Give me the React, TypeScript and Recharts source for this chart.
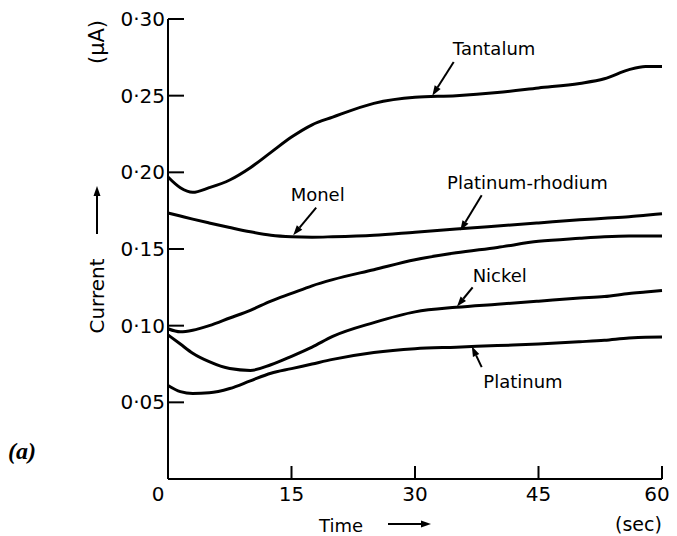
import React from 'react';
import {
  LineChart,
  Line,
  XAxis,
  YAxis,
  ReferenceLine,
  ReferenceDot,
} from 'recharts';

// sample times (sec)
const TIMES = [0, 1.5, 3, 5, 7.5, 10, 12.5, 15, 17.5, 20, 25, 30, 35, 40, 45, 50, 53, 56, 58, 60];

// current readings (µA) for each electrode metal
const TANTALUM = [0.197, 0.19, 0.187, 0.19, 0.195, 0.203, 0.213, 0.223, 0.231, 0.236, 0.245, 0.249, 0.25, 0.252, 0.255, 0.258, 0.261, 0.267, 0.269, 0.269];
const MONEL_PT_RH = [0.1735, 0.1715, 0.1695, 0.167, 0.164, 0.1612, 0.159, 0.158, 0.1577, 0.158, 0.159, 0.161, 0.163, 0.165, 0.167, 0.169, 0.17, 0.171, 0.172, 0.173];
const UNLABELLED = [0.098, 0.096, 0.097, 0.1, 0.105, 0.11, 0.116, 0.121, 0.126, 0.13, 0.1365, 0.143, 0.1475, 0.151, 0.155, 0.157, 0.158, 0.1585, 0.1585, 0.1585];
const NICKEL = [0.094, 0.088, 0.082, 0.0765, 0.072, 0.0708, 0.0745, 0.08, 0.086, 0.093, 0.102, 0.109, 0.112, 0.114, 0.116, 0.118, 0.119, 0.121, 0.122, 0.123];
const PLATINUM = [0.061, 0.057, 0.0558, 0.0562, 0.059, 0.064, 0.069, 0.072, 0.075, 0.078, 0.0825, 0.085, 0.086, 0.087, 0.088, 0.0895, 0.0905, 0.092, 0.0925, 0.0926];

const X_TICKS = [0, 15, 30, 45, 60];
const Y_TICKS = [0.05, 0.1, 0.15, 0.2, 0.25, 0.3];

// curve labels: text anchor point, arrow tail and arrow head (data units)
const LABELS = [
  { text: 'Tantalum', at: [34.6, 0.2766], tail: [34.7, 0.272], head: [32.1, 0.25] },
  { text: 'Platinum-rhodium', at: [33.9, 0.189], tail: [38.1, 0.185], head: [35.5, 0.162] },
  { text: 'Monel', at: [14.9, 0.181], tail: [18.0, 0.177], head: [15.2, 0.159] },
  { text: 'Nickel', at: [37.0, 0.1285], tail: [37.0, 0.125], head: [35.1, 0.1125] },
  { text: 'Platinum', at: [38.3, 0.0594], tail: [38.1, 0.073], head: [36.9, 0.0865] },
];

const FONT = '"DejaVu Sans", sans-serif';
const AXIS_STROKE = { stroke: '#000', strokeWidth: 2 };

const data = TIMES.map((t, i) => ({
  t,
  tantalum: TANTALUM[i],
  monel: MONEL_PT_RH[i],
  other: UNLABELLED[i],
  nickel: NICKEL[i],
  platinum: PLATINUM[i],
}));

// tick marks point into the plot (negative tickSize), labels sit outside
const YTick = (props: any) => {
  const { x, y, payload } = props;
  return (
    <text x={x} y={y} textAnchor="end" dominantBaseline="central" fontSize={20} fontFamily={FONT} fill="#000">
      {payload.value.toFixed(2).replace('.', '·')}
    </text>
  );
};

const XTick = (props: any) => {
  const { x, y, payload } = props;
  const v = payload.value;
  const dx = v === 0 ? -10 : v === 60 ? -5 : 0;
  return (
    <text x={x + dx} y={y} textAnchor="middle" dominantBaseline="central" fontSize={20} fontFamily={FONT} fill="#000">
      {v}
    </text>
  );
};

// straight pointer line with a filled head at the second point
const Pointer = (props: any) => {
  const { x1, y1, x2, y2 } = props;
  const dx = x2 - x1;
  const dy = y2 - y1;
  const len = Math.sqrt(dx * dx + dy * dy) || 1;
  const ux = dx / len;
  const uy = dy / len;
  const hl = 10;
  const hw = 3.5;
  const bx = x2 - ux * hl;
  const by = y2 - uy * hl;
  return (
    <g>
      <line x1={x1} y1={y1} x2={bx} y2={by} stroke="#000" strokeWidth={2} />
      <polygon
        points={`${x2},${y2} ${bx - uy * hw},${by + ux * hw} ${bx + uy * hw},${by - ux * hw}`}
        fill="#000"
      />
    </g>
  );
};

const series = ['tantalum', 'monel', 'other', 'nickel', 'platinum'];

export default function App() {
  return (
    <div style={{ position: 'absolute', left: 0, top: 0, width: 677, height: 536, background: '#fff' }}>
      <LineChart width={677} height={536} data={data} margin={{ top: 19, right: 15, bottom: 0, left: 0 }}>
        <XAxis
          dataKey="t"
          type="number"
          domain={[0, 60]}
          ticks={X_TICKS}
          height={57}
          tickSize={-13}
          tickMargin={28}
          tickLine={AXIS_STROKE}
          axisLine={AXIS_STROKE}
          tick={<XTick />}
          interval={0}
        />
        <YAxis
          type="number"
          domain={[0, 0.3]}
          ticks={Y_TICKS}
          width={168}
          tickSize={-16}
          tickMargin={19}
          tickLine={AXIS_STROKE}
          axisLine={AXIS_STROKE}
          tick={<YTick />}
          interval={0}
        />
        {series.map((key) => (
          <Line
            key={key}
            dataKey={key}
            type="monotone"
            stroke="#000"
            strokeWidth={3}
            dot={false}
            activeDot={false}
            isAnimationActive={false}
          />
        ))}
        {LABELS.map((l) => (
          <ReferenceLine
            key={`p-${l.text}`}
            segment={[
              { x: l.tail[0], y: l.tail[1] },
              { x: l.head[0], y: l.head[1] },
            ]}
            ifOverflow="visible"
            shape={(p: any) => <Pointer {...p} />}
          />
        ))}
        {LABELS.map((l) => (
          <ReferenceDot
            key={`t-${l.text}`}
            x={l.at[0]}
            y={l.at[1]}
            r={0}
            ifOverflow="visible"
            shape={(p: any) => (
              <text x={p.cx} y={p.cy} fontSize={18} fontFamily={FONT} fill="#000">
                {l.text}
              </text>
            )}
          />
        ))}
      </LineChart>
      <svg
        width={677}
        height={536}
        style={{ position: 'absolute', left: 0, top: 0, pointerEvents: 'none' }}
      >
        <text x={97} y={42} transform="rotate(-90 97 42)" textAnchor="middle" dominantBaseline="central" fontSize={21} fontFamily={FONT}>
          (µA)
        </text>
        <text x={97} y={296} transform="rotate(-90 97 296)" textAnchor="middle" dominantBaseline="central" fontSize={20} fontFamily={FONT}>
          Current
        </text>
        <Pointer x1={97} y1={234} x2={97} y2={186} />
        <text x={319} y={532} fontSize={18} fontFamily={FONT}>
          Time
        </text>
        <Pointer x1={388} y1={524} x2={431} y2={524} />
        <text x={615} y={531} fontSize={19} fontFamily={FONT}>
          (sec)
        </text>
        <text x={8} y={459} fontSize={24} fontFamily='"Liberation Serif", serif' fontStyle="italic" fontWeight="bold">
          (a)
        </text>
      </svg>
    </div>
  );
}
